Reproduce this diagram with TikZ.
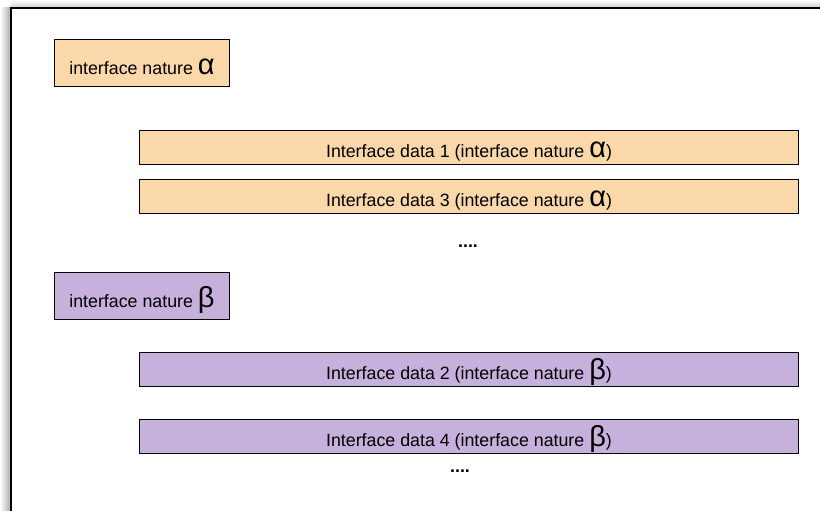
\documentclass[tikz,border=0pt]{standalone}
\usepackage{fontspec}
\setmainfont{Liberation Sans}
\definecolor{natA}{HTML}{FAD8AA}
\definecolor{natB}{HTML}{C6B0DC}
\newcommand{\grk}[1]{{\fontsize{29}{29}\selectfont #1}}

\begin{document}
\begin{tikzpicture}[x=1pt,y=-1pt,font=\fontsize{17.8}{20}\selectfont,
        natbox/.style={draw,line width=1pt,anchor=north west,inner sep=0pt,minimum width=175pt,text height=35pt,text depth=12pt},
        databox/.style={draw,line width=1pt,anchor=north west,inner sep=0pt,minimum width=659pt,text height=27pt,text depth=7pt},
        moredots/.style={anchor=base,inner sep=0pt}]
        \useasboundingbox (0,0) rectangle (820,511);
        % frame with its shadow
        \shade[left color=white,right color=black!35] (0,8) rectangle (11,511);
        \shade[top color=white,bottom color=black!20] (11,0) rectangle (820,8);
        \coordinate (fbot) at (11,520);
        \coordinate (fcorner) at (11,8);
        \coordinate (fright) at (830,8);
        \draw[line width=1.5pt] (fbot) -- (fcorner) -- (fright);
        % nature alpha
        \node[natbox,fill=natA] (natA) at (54,39) {interface nature \grk{α}};
        \node[databox,fill=natA] (data1) at (139,130) {Interface data 1 (interface nature \grk{α})};
        \node[databox,fill=natA] (data3) at (139,179) {Interface data 3 (interface nature \grk{α})};
        \node[moredots] (dotsA) at (468,247) {\textbf{....}};
        % nature beta
        \node[natbox,fill=natB] (natB) at (54,272) {interface nature \grk{β}};
        \node[databox,fill=natB] (data2) at (139,352) {Interface data 2 (interface nature \grk{β})};
        \node[databox,fill=natB] (data4) at (139,419) {Interface data 4 (interface nature \grk{β})};
        \node[moredots] (dotsB) at (460,472) {\textbf{....}};
    \end{tikzpicture}
\end{document}
